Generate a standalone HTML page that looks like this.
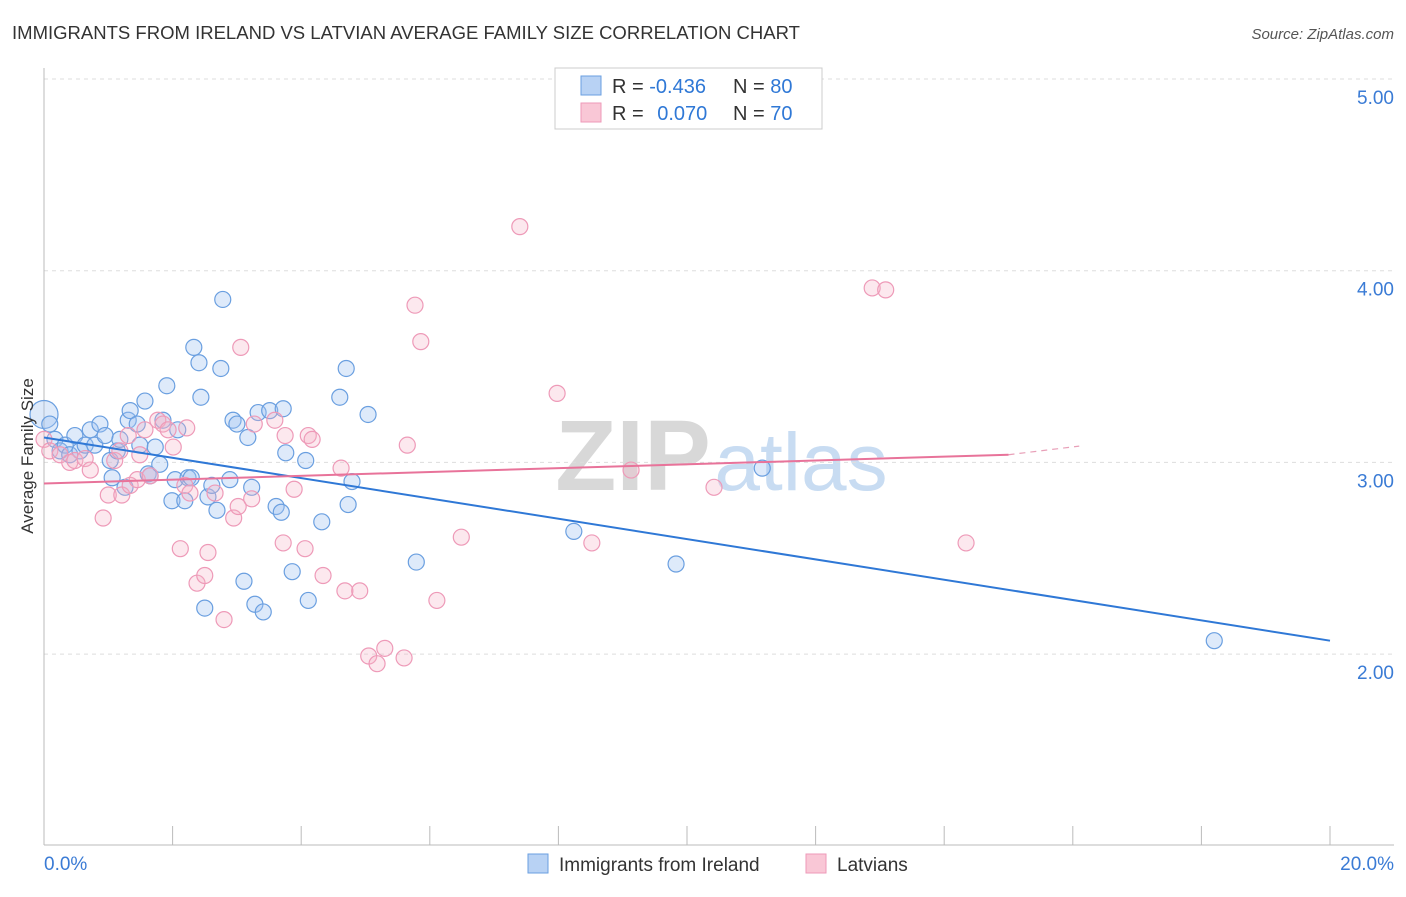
<!DOCTYPE html>
<html><head><meta charset="utf-8"><style>
body{margin:0;background:#fff;font-family:"Liberation Sans",sans-serif;}
svg text{font-family:"Liberation Sans",sans-serif;}
</style></head><body>
<svg id="chart" width="1406" height="892" xmlns="http://www.w3.org/2000/svg">
<text x="12" y="39" font-size="18" fill="#333" textLength="788" lengthAdjust="spacingAndGlyphs">IMMIGRANTS FROM IRELAND VS LATVIAN AVERAGE FAMILY SIZE CORRELATION CHART</text>
<text x="1394" y="39" font-size="15" fill="#555" text-anchor="end" font-style="italic">Source: ZipAtlas.com</text>
<g>
<text x="633" y="490" font-size="100" fill="#d8d8d8" text-anchor="middle" font-family="Liberation Serif" font-weight="bold">ZIP</text>
<text x="801" y="490" font-size="82" fill="#c8dcf2" text-anchor="middle">atlas</text>
</g>
<g id="grid"></g>
<g id="axes"></g>
<g id="points"></g>
<g id="lines"></g>
<text transform="translate(33,456) rotate(-90)" font-size="17" fill="#333" text-anchor="middle">Average Family Size</text>
<g>
<rect x="555" y="68" width="267" height="61" fill="#fff" stroke="#ccc"/>
<rect x="581" y="76" width="20" height="19" fill="#b8d2f4" stroke="#6a9fe0"/>
<rect x="581" y="103" width="20" height="19" fill="#f9c7d6" stroke="#ee9ab8"/>
<text x="612" y="93" font-size="20" fill="#333">R = <tspan fill="#2f78d6">-0.436</tspan></text>
<text x="733" y="93" font-size="20" fill="#333">N = <tspan fill="#2f78d6">80</tspan></text>
<text x="612" y="120" font-size="20" fill="#333">R = <tspan fill="#2f78d6" dx="8">0.070</tspan></text>
<text x="733" y="120" font-size="20" fill="#333">N = <tspan fill="#2f78d6">70</tspan></text>
</g>
<g>
<rect x="528" y="854" width="20" height="19" fill="#b8d2f4" stroke="#6a9fe0"/>
<text x="559" y="871" font-size="19" fill="#333">Immigrants from Ireland</text>
<rect x="806" y="854" width="20" height="19" fill="#f9c7d6" stroke="#ee9ab8"/>
<text x="837" y="871" font-size="19" fill="#333">Latvians</text>
</g>
</svg>
<script>
const yTicks=[2,3,4,5];
const yTickLabels=["2.00","3.00","4.00","5.00"];
const xTicks=[0,2,4,6,8,10,12,14,16,18,20];
const blueX=[0,0.09,0.17,0.25,0.33,0.40,0.48,0.56,0.64,0.72,0.79,0.87,0.95,1.03,1.06,1.14,1.18,1.26,1.31,1.34,1.45,1.49,1.57,1.62,1.65,1.73,1.80,1.85,1.91,1.99,2.04,2.08,2.19,2.24,2.29,2.33,2.41,2.44,2.50,2.55,2.61,2.69,2.75,2.78,2.89,2.94,3.00,3.11,3.17,3.23,3.28,3.33,3.41,3.51,3.61,3.72,3.69,3.76,3.86,4.07,4.11,4.32,4.60,4.70,4.73,4.79,5.04,5.79,8.24,9.83,11.17,18.20];
const blueY=[3.25,3.20,3.12,3.06,3.09,3.04,3.14,3.06,3.09,3.17,3.09,3.20,3.14,3.01,2.92,3.06,3.12,2.87,3.22,3.27,3.20,3.09,3.32,2.94,2.93,3.08,2.99,3.22,3.40,2.80,2.91,3.17,2.80,2.92,2.92,3.60,3.52,3.34,2.24,2.82,2.88,2.75,3.49,3.85,2.91,3.22,3.20,2.38,3.13,2.87,2.26,3.26,2.22,3.27,2.77,3.28,2.74,3.05,2.43,3.01,2.28,2.69,3.34,3.49,2.78,2.90,3.25,2.48,2.64,2.47,2.97,2.07];
const pinkX=[0,0.09,0.25,0.40,0.48,0.64,0.72,0.92,1.00,1.10,1.18,1.21,1.31,1.34,1.45,1.49,1.57,1.65,1.77,1.85,1.93,2.01,2.12,2.19,2.22,2.27,2.38,2.50,2.55,2.66,2.80,2.95,3.02,3.06,3.23,3.27,3.59,3.72,3.75,3.89,4.06,4.11,4.17,4.34,4.62,4.68,4.91,5.05,5.18,5.30,5.60,5.65,5.77,5.86,6.11,6.49,7.40,7.98,8.52,9.13,10.42,12.88,13.09,14.34];
const pinkY=[3.12,3.06,3.04,3.00,3.01,3.02,2.96,2.71,2.83,3.01,3.06,2.83,3.14,2.88,2.91,3.04,3.17,2.93,3.22,3.20,3.17,3.08,2.55,2.88,3.18,2.84,2.37,2.41,2.53,2.84,2.18,2.71,2.77,3.60,2.81,3.20,3.22,2.58,3.14,2.86,2.55,3.14,3.12,2.41,2.97,2.33,2.33,1.99,1.95,2.03,1.98,3.09,3.82,3.63,2.28,2.61,4.23,3.36,2.58,2.96,2.87,3.91,3.90,2.58];
const blueTrend=[[0,3.13],[20,2.07]];
const pinkTrend=[[0,2.89],[15,3.04]];
const pinkTrendExt=[[15,3.04],[16.1,3.085]];

const NS="http://www.w3.org/2000/svg";
const X=v=>44+v*64.3;
const Y=v=>79+(5-v)*191.7;
function mk(tag,attrs,parent){const e=document.createElementNS(NS,tag);for(const k in attrs)e.setAttribute(k,attrs[k]);parent.appendChild(e);return e;}
const grid=document.getElementById('grid'),axes=document.getElementById('axes'),pts=document.getElementById('points'),lines=document.getElementById('lines');
yTicks.forEach((t,i)=>{
 const g=mk('line',{x1:44,x2:1394,y1:Y(t),y2:Y(t),stroke:'#ddd','stroke-dasharray':'4,4'},grid);
 
 
 const tx=mk('text',{x:1394,y:Y(t)+25,'font-size':19,fill:'#3a7bd5','text-anchor':'end'},axes);
 tx.textContent=yTickLabels[i];
 
 
});
const al=mk('line',{x1:44,x2:44,y1:68,y2:845,stroke:'#bbb'},axes);


const bl=mk('line',{x1:44,x2:1394,y1:845,y2:845,stroke:'#bbb'},axes);


xTicks.forEach(t=>{
 const l=mk('line',{x1:X(t),x2:X(t),y1:826,y2:845,stroke:'#bbb'},axes);
 
 
});
[[0,'0.0%','start',44],[20,'20.0%','end',1394]].forEach(d=>{
 const t=mk('text',{x:d[3],y:870,'font-size':19,fill:'#3a7bd5','text-anchor':d[2]},axes);
 t.textContent=d[1];
 
 
});
blueX.forEach((v,i)=>{
 const c=mk('circle',{cx:X(v),cy:Y(blueY[i]),r:i==0?14:8,fill:'rgba(160,196,240,0.35)',stroke:'#6a9fe0','stroke-width':1.2},pts);
 
 
});
pinkX.forEach((v,i)=>{
 const c=mk('circle',{cx:X(v),cy:Y(pinkY[i]),r:8,fill:'rgba(245,180,200,0.3)',stroke:'#ee9ab8','stroke-width':1.2},pts);
 
 
});
const b=mk('line',{x1:X(blueTrend[0][0]),y1:Y(blueTrend[0][1]),x2:X(blueTrend[1][0]),y2:Y(blueTrend[1][1]),stroke:'#2f78d6','stroke-width':2},lines);


const p=mk('line',{x1:X(pinkTrend[0][0]),y1:Y(pinkTrend[0][1]),x2:X(pinkTrend[1][0]),y2:Y(pinkTrend[1][1]),stroke:'#e8739a','stroke-width':2},lines);


const pe=mk('line',{x1:X(pinkTrendExt[0][0]),y1:Y(pinkTrendExt[0][1]),x2:X(pinkTrendExt[1][0]),y2:Y(pinkTrendExt[1][1]),stroke:'#e8a0b8','stroke-width':1.2,'stroke-dasharray':'6,5'},lines);


</script>
</body></html>
